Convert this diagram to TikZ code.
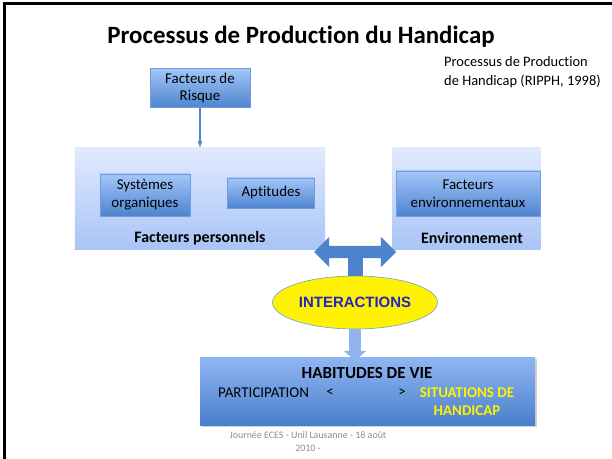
\documentclass[tikz,border=0pt]{standalone}
\usepackage{fontspec}
\setmainfont[Ligatures=NoCommon]{Carlito}
\newfontfamily\arialfont{Liberation Sans}
\usepackage{tikz}
\usetikzlibrary{arrows, arrows.meta, shapes.geometric, shapes.arrows, shadows}

\definecolor{boxtop}{HTML}{A4C6F9}
\definecolor{boxbot}{HTML}{4D84CF}
\definecolor{boxline}{HTML}{6F9CDB}
\definecolor{paneltop}{HTML}{E0EAFD}
\definecolor{panelbot}{HTML}{A8C4F6}
\definecolor{habtop}{HTML}{8FB6F3}
\definecolor{habbot}{HTML}{4A7FCC}
\definecolor{arrowblue}{HTML}{4F82CC}
\definecolor{palearrow}{HTML}{90B5EE}
\definecolor{interblue}{HTML}{2323C8}
\definecolor{footgrey}{HTML}{8C8C8C}

\tikzset{
  txt/.style={font=\fontsize{15}{18}\selectfont, align=center, inner sep=0pt},
  boldtxt/.style={txt, font=\fontsize{16}{18}\selectfont\bfseries},
  bluebox/.style={txt, shading=axis, top color=boxtop, bottom color=boxbot,
    draw=boxline, line width=0.6bp},
  panel/.style={shading=axis, top color=paneltop, bottom color=panelbot, inner sep=0pt},
}

\begin{document}
\begin{tikzpicture}[x=1bp, y=-1bp]
\useasboundingbox (0,0) rectangle (612,459);
\draw[line width=3bp] (4,459) -- (4,4) -- (612,4);
%
\node(title) at (301,37) {\fontsize{25}{30}\selectfont\bfseries Processus de Production du Handicap};
\node(ripph)[anchor=west, align=left, inner sep=0pt, font=\fontsize{14.5}{19}\selectfont] at (444,72) {Processus de Production\\de Handicap (RIPPH, 1998)};
%
\node(risque)[bluebox, minimum width=100bp, minimum height=39bp] at (200,88) {Facteurs de\\Risque};
%
\node(persos)[panel, minimum width=250bp, minimum height=102bp] at (200,199) {};
\node(environ)[panel, minimum width=148bp, minimum height=102bp] at (466.5,199) {};
\draw[-latex, arrowblue, line width=1.2bp](risque) -- (persos) {};
%
\node(sysorg)[bluebox, minimum width=90bp, minimum height=42bp] at (145,195) {Systèmes\\organiques};
\node(aptitudes)[bluebox, minimum width=87bp, minimum height=30bp] at (271,193) {Aptitudes};
\node(lblpers)[boldtxt] at (200,238) {Facteurs personnels};
%
\node(factenv)[bluebox, minimum width=144bp, minimum height=45bp] at (468,193.5) {Facteurs\\environnementaux};
\node(lblenv)[boldtxt] at (472,238) {Environnement};
%
\node(interact)[ellipse, fill=yellow, draw=boxline, line width=0.6bp, minimum width=165bp, minimum height=53bp, inner sep=0pt] at (355,302.5) {\arialfont\fontsize{15}{18}\selectfont\bfseries\color{interblue}INTERACTIONS};
%
\node(dbl)[double arrow, fill=arrowblue, minimum height=82bp, inner xsep=0pt, inner ysep=6bp, double arrow head extend=9bp] at (355,252) {};
\draw[arrowblue, line width=15bp](dbl.center) -- (interact.north) {};
%
\node(habitudes)[shading=axis, top color=habtop, bottom color=habbot, minimum width=335bp, minimum height=68bp, inner sep=0pt,
  drop shadow={opacity=0.35, shadow xshift=2bp, shadow yshift=-2bp}] at (367.5,391) {};
\coordinate(habin) at ([yshift=-4bp]interact.south |- habitudes.north);
\draw[-{Triangle[width=22bp, length=10bp]}, palearrow, line width=12bp](interact.south) -- (habin) {};
%
\node(habtitle)[boldtxt, font=\fontsize{17}{18}\selectfont\bfseries] at (367,373) {HABITUDES DE VIE};
\node(particip)[txt, anchor=west] at (218,393) {PARTICIPATION};
\node(lt)[txt] at (330,393) {<};
\node(gt)[txt] at (402,393) {>};
\node(situations)[txt, font=\fontsize{15}{18}\selectfont\bfseries, text=yellow] at (467,402) {SITUATIONS DE\\HANDICAP};
%
\node(footer)[align=center, inner sep=0pt, text=footgrey, font=\fontsize{10}{13}\selectfont] at (308,441.5) {Journée ECES - Unil Lausanne - 18 août\\2010 -};
\end{tikzpicture}
\end{document}
